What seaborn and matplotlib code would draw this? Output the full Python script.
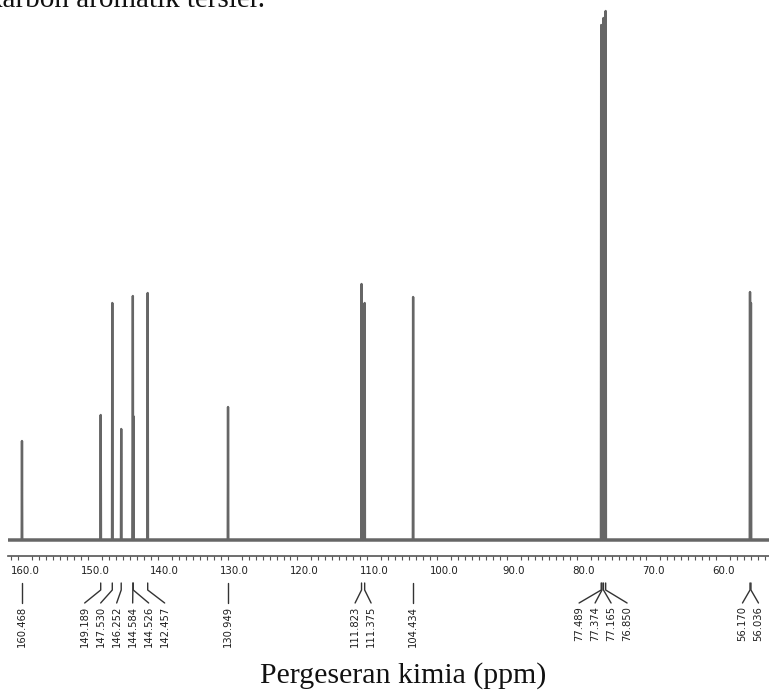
import numpy as np
import pandas as pd
import seaborn as sns
import matplotlib
matplotlib.use("Agg")
import matplotlib.pyplot as plt
from matplotlib.transforms import blended_transform_factory

# 13C NMR peak list: chemical shift (ppm) and relative intensity
shifts = [160.468, 149.189, 147.530, 146.252, 144.584, 144.526, 142.457,
          130.949, 111.823, 111.375, 104.434,
          77.489, 77.374, 77.165, 76.850, 56.170, 56.036]
intensity = [99, 125, 237, 111, 244, 124, 247,
             133, 256, 237, 243,
             515, 505, 522, 529, 248, 237]
shift_labels = ["160.468", "149.189", "147.530", "146.252", "144.584", "144.526",
                "142.457", "130.949", "111.823", "111.375", "104.434",
                "77.489", "77.374", "77.165", "76.850", "56.170", "56.036"]
tick_values = [160, 150, 140, 130, 120, 110, 100, 90, 80, 70, 60]
tick_labels = ["160.0", "150.0", "140.0", "130.0", "120.0", "110.0",
               "100.0", "90.0", "80.0", "70.0", "60.0"]
x_title = "Pergeseran kimia (ppm)"
caption = "karbon aromatik tersier."

sns.set_theme(style="white")
plt.rcParams["font.family"] = ["DejaVu Sans"]

W, H = 769, 690
fig = plt.figure(figsize=(W / 100, H / 100), dpi=100)
ax = fig.add_axes([8 / W, (H - 556) / H, 761 / W, 556 / H])

x_left, x_right = 162.47, 53.45
half_w = 0.04

# stick spectrum built from the peak list, running from high to low ppm
xs, ys = [x_left], [0.0]
order = np.argsort(shifts)[::-1]
for i in order:
    p, h = shifts[i], intensity[i]
    xs += [p + half_w, p, p - half_w]
    ys += [0.0, h, 0.0]
xs.append(x_right)
ys.append(0.0)
spec = pd.DataFrame({"ppm": xs, "I": ys})

ax.axhline(0, color="#7d7d7d", lw=2.6, zorder=1)
sns.lineplot(data=spec, x="ppm", y="I", sort=False, estimator=None,
             color="#666666", lw=1.7, ax=ax, zorder=2)

ax.set_xlim(x_left, x_right)
ax.set_ylim(-16, 540)
for s in ["top", "left", "right"]:
    ax.spines[s].set_visible(False)
ax.spines["bottom"].set_color("#555555")
ax.spines["bottom"].set_linewidth(1.2)
ax.set_yticks([])
ax.set_xticks(tick_values)
ax.set_xticklabels(tick_labels)
ax.set_xticks(np.arange(54, 163, 1), minor=True)
ax.tick_params(axis="x", which="major", direction="out", length=4, width=1,
               color="#555555", pad=3, labelsize=8.2, labelcolor="#1e1e1e")
ax.tick_params(axis="x", which="minor", direction="out", length=3, width=0.8,
               color="#555555", bottom=True)
for t in ax.get_xticklabels():
    t.set_fontstretch("condensed")
ax.set_xlabel("")
ax.set_ylabel("")

# peak annotations below the axis
trans = blended_transform_factory(ax.transData, fig.transFigure)
fy = lambda y_px: (H - y_px) / H
px_per_ppm = 761 / (x_left - x_right)
spacing = 16 / px_per_ppm

groups = []
for i in range(len(shifts)):
    if groups and abs(shifts[groups[-1][-1]] - shifts[i]) < 3:
        groups[-1].append(i)
    else:
        groups.append([i])

for g in groups:
    n = len(g)
    centre = np.mean([shifts[i] for i in g])
    for k, i in enumerate(g):
        lx = centre + ((n - 1) / 2 - k) * spacing
        p = shifts[i]
        if n == 1:
            ax.plot([p, p], [fy(583), fy(603)], transform=trans,
                    color="#333333", lw=1.0, clip_on=False)
        else:
            ax.plot([p, p, lx], [fy(583), fy(590), fy(603)], transform=trans,
                    color="#333333", lw=1.0, clip_on=False)
        ax.text(lx, fy(606), shift_labels[i], transform=trans, rotation=90,
                ha="center", va="top", fontsize=8.0, color="#1e1e1e",
                fontstretch="condensed", clip_on=False)

fig.text(403 / W, fy(683), x_title, ha="center", va="baseline",
         fontsize=21.5, family=["Liberation Serif"], color="#111111")
fig.text(265 / W, fy(7), caption, ha="right", va="baseline",
         fontsize=21, family=["Liberation Serif"], color="#111111")

fig.savefig("out.png", dpi=100, facecolor="white")
